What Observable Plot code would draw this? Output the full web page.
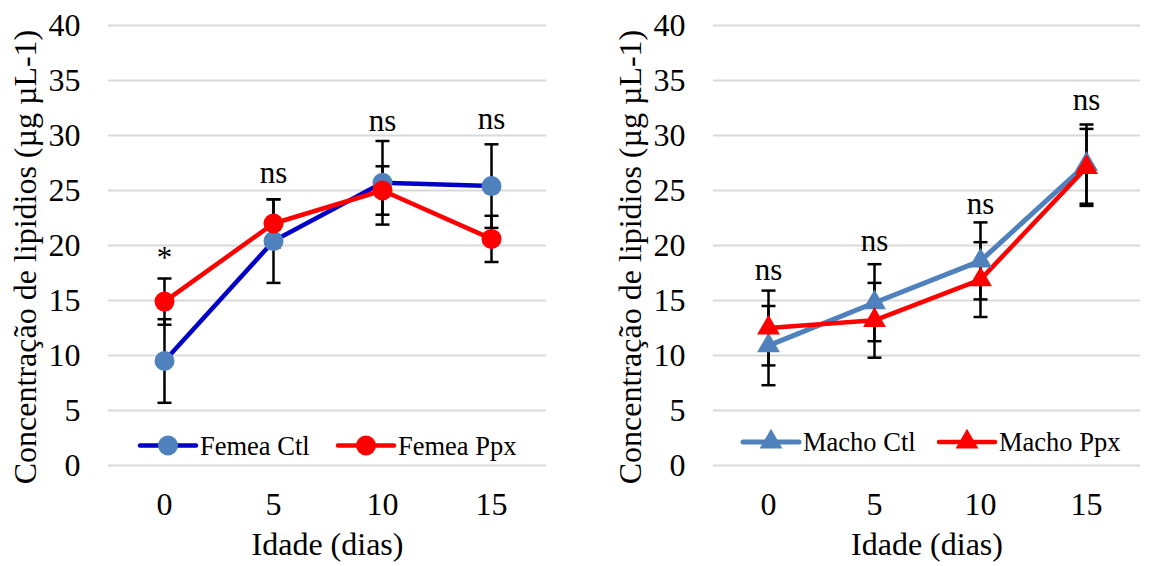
<!DOCTYPE html>
<html><head><meta charset="utf-8">
<script src="https://cdn.jsdelivr.net/npm/d3@7"></script>
<script src="https://cdn.jsdelivr.net/npm/@observablehq/plot@0.6"></script>
<style>
html,body{margin:0;padding:0;background:#fff;}
#wrap{position:relative;width:1149px;height:566px;overflow:hidden;background:#fff;}
#wrap > svg{position:absolute;top:0;}
#wrap svg text{font-family:"Liberation Serif","Times New Roman",Tinos,"DejaVu Serif",serif !important;}
</style></head><body><div id="wrap"></div>
<script>
// ---- data ----
const days = [0, 5, 10, 15];
const yTicks = [0, 5, 10, 15, 20, 25, 30, 35, 40];

const femeaCtl = [9.5, 20.4, 25.7, 25.4];
const femeaCtlErr = [3.8, 3.8, 3.8, 3.8];
const femeaPpx = [14.9, 22.0, 25.0, 20.6];
const femeaPpxErr = [2.1, 2.2, 2.2, 2.1];
const femeaSig = ["*", "ns", "ns", "ns"];
const femeaSigY = [18.9, 26.55, 31.35, 31.5];

const machoCtl = [10.9, 14.8, 18.6, 27.4];
const machoCtlErr = [3.6, 3.5, 3.5, 3.6];
const machoPpx = [12.5, 13.2, 16.9, 27.1];
const machoPpxErr = [3.4, 3.4, 3.4, 3.5];
const machoSig = ["ns", "ns", "ns", "ns"];
const machoSigY = [17.75, 20.4, 23.8, 33.2];

const yLabel = "Concentração de lipidios (µg µL-1)";
const xLabel = "Idade (dias)";

const FONT = "'Liberation Serif', 'Times New Roman', Tinos, 'DejaVu Serif', serif";
const AXIS_FS = 32;

// horizontal cap symbol for error bars
const capSymbol = {draw(ctx) { ctx.moveTo(-7, 0); ctx.lineTo(7, 0); }};

function makePanel({width, marginRight, series, sig, sigY, symbol, r}) {
  const rows = series.flatMap(s => days.map((d, i) => ({day: d, value: s.values[i], err: s.err[i], name: s.name})));
  const ann = days.map((d, i) => ({day: d, y: sigY[i], t: sig[i]}));
  const marks = [
    Plot.gridY(yTicks, {stroke: "#d9d9d9", strokeOpacity: 1, strokeWidth: 2}),
    Plot.axisY(yTicks, {tickSize: 0, tickPadding: 28, label: null, fill: "black", fontSize: AXIS_FS}),
    Plot.axisX(days, {tickSize: 0, tickPadding: 27, label: null, fill: "black", fontSize: AXIS_FS}),
    Plot.ruleX(rows, {x: "day", y1: d => d.value - d.err, y2: d => d.value + d.err, stroke: "black", strokeWidth: 2.5}),
    Plot.dot(rows, {x: "day", y: d => d.value + d.err, symbol: capSymbol, stroke: "black", fill: "none", strokeWidth: 2.5}),
    Plot.dot(rows, {x: "day", y: d => d.value - d.err, symbol: capSymbol, stroke: "black", fill: "none", strokeWidth: 2.5})
  ];
  for (const s of series) {
    const data = rows.filter(d => d.name === s.name);
    marks.push(Plot.line(data, {x: "day", y: "value", stroke: s.line, strokeWidth: s.lw}));
  }
  for (const s of series) {
    const data = rows.filter(d => d.name === s.name);
    marks.push(Plot.dot(data, {x: "day", y: "value", fill: s.marker, stroke: "none", r, symbol}));
  }
  marks.push(
    Plot.text(ann, {x: "day", y: "y", text: "t", fontSize: 31, fill: "black"}),
    Plot.text([yLabel], {text: d => d, frameAnchor: "left", textAnchor: "middle", lineAnchor: "middle", rotate: -90, dx: -83, dy: 11.5, fontSize: AXIS_FS, fill: "black"}),
    Plot.text([xLabel], {text: d => d, frameAnchor: "bottom", textAnchor: "middle", lineAnchor: "middle", dy: 79, fontSize: AXIS_FS, fill: "black"})
  );
  return Plot.plot({
    width, height: 566,
    marginLeft: 108, marginRight, marginTop: 25, marginBottom: 101,
    style: {fontFamily: FONT, fontSize: AXIS_FS + "px", color: "black", background: "white", overflow: "visible"},
    x: {type: "point", domain: days, padding: 0.5},
    y: {domain: [0, 40]},
    marks
  });
}

const wrap = document.getElementById("wrap");

const left = makePanel({
  width: 574, marginRight: 28,
  series: [
    {name: "Femea Ctl", values: femeaCtl, err: femeaCtlErr, line: "#0000c8", marker: "#4f81bd", lw: 4.5},
    {name: "Femea Ppx", values: femeaPpx, err: femeaPpxErr, line: "#ff0000", marker: "#ff0000", lw: 4.5}
  ],
  sig: femeaSig, sigY: femeaSigY, symbol: "circle", r: 10
});
left.style.left = "0px";
wrap.appendChild(left);

const right = makePanel({
  width: 544, marginRight: 9,
  series: [
    {name: "Macho Ctl", values: machoCtl, err: machoCtlErr, line: "#4f81bd", marker: "#4f81bd", lw: 5},
    {name: "Macho Ppx", values: machoPpx, err: machoPpxErr, line: "#ff0000", marker: "#ff0000", lw: 4.5}
  ],
  sig: machoSig, sigY: machoSigY, symbol: "triangle", r: 8.5
});
right.style.left = "605px";
wrap.appendChild(right);

// ---- legends (inside plot areas) ----
const leg = d3.create("svg").attr("width", 1149).attr("height", 566)
  .style("left", "0px").style("pointer-events", "none");
const legendItems = [
  {label: "Femea Ctl", x0: 140, y: 445.5, line: "#0000c8", marker: "#4f81bd", sym: d3.symbolCircle, size: Math.PI * 100, lw: 4.5},
  {label: "Femea Ppx", x0: 338, y: 445.5, line: "#ff0000", marker: "#ff0000", sym: d3.symbolCircle, size: Math.PI * 100, lw: 4.5},
  {label: "Macho Ctl", x0: 743, y: 442, line: "#4f81bd", marker: "#4f81bd", sym: d3.symbolTriangle, size: Math.PI * 72, lw: 5},
  {label: "Macho Ppx", x0: 939, y: 442, line: "#ff0000", marker: "#ff0000", sym: d3.symbolTriangle, size: Math.PI * 72, lw: 4.5}
];
for (const it of legendItems) {
  const g = leg.append("g");
  g.append("line").attr("x1", it.x0).attr("x2", it.x0 + 56).attr("y1", it.y).attr("y2", it.y)
    .attr("stroke", it.line).attr("stroke-width", it.lw).attr("stroke-linecap", "round");
  g.append("path").attr("d", d3.symbol(it.sym, it.size)()).attr("transform", `translate(${it.x0 + 28},${it.y})`)
    .attr("fill", it.marker);
  g.append("text").attr("x", it.x0 + 60).attr("y", it.y).attr("dy", "0.35em")
    .attr("font-size", 26.5).attr("fill", "black").text(it.label);
}
wrap.appendChild(leg.node());
</script>
</body></html>
